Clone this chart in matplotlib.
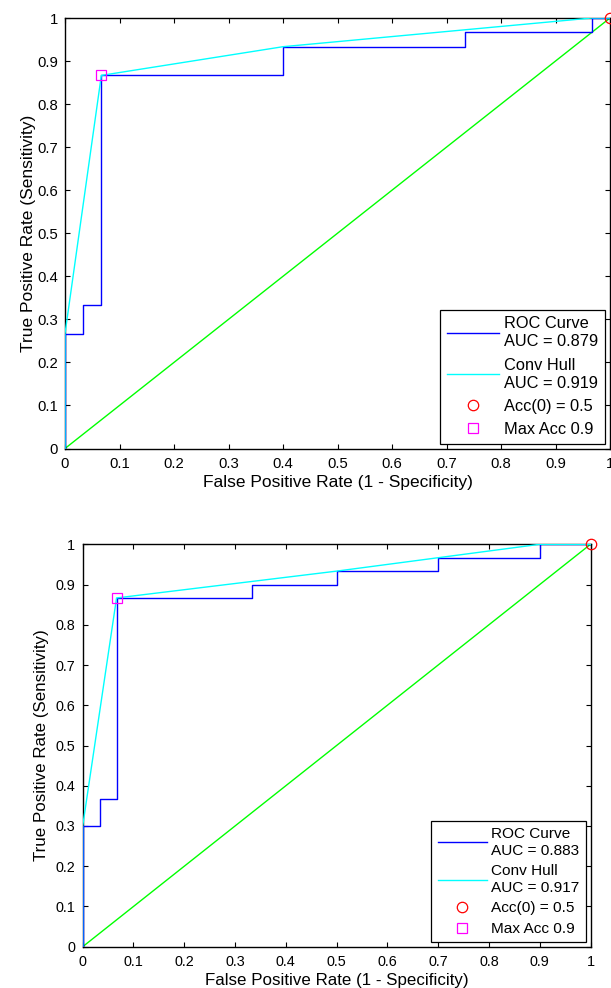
import matplotlib
matplotlib.use("Agg")
import matplotlib.pyplot as plt
from matplotlib.ticker import FormatStrFormatter

plt.rcParams['font.family'] = ['Liberation Sans', 'DejaVu Sans']

# ---- Data: top panel ----
roc1_fpr = [0, 0, 1/30, 1/30, 2/30, 2/30, 0.4, 0.4, 22/30, 22/30, 29/30, 29/30, 1]
roc1_tpr = [0, 8/30, 8/30, 10/30, 10/30, 26/30, 26/30, 28/30, 28/30, 29/30, 29/30, 1, 1]
hull1_fpr = [0, 0, 2/30, 0.4, 29/30, 1]
hull1_tpr = [0, 8/30, 26/30, 28/30, 1, 1]
auc1_roc, auc1_hull = 0.879, 0.919
maxacc1 = (2/30, 26/30)

# ---- Data: bottom panel ----
roc2_fpr = [0, 0, 1/30, 1/30, 2/30, 2/30, 10/30, 10/30, 0.5, 0.5, 0.7, 0.7, 0.9, 0.9, 1]
roc2_tpr = [0, 9/30, 9/30, 11/30, 11/30, 26/30, 26/30, 27/30, 27/30, 28/30, 28/30, 29/30, 29/30, 1, 1]
hull2_fpr = [0, 0, 2/30, 0.5, 0.7, 0.9, 1]
hull2_tpr = [0, 9/30, 26/30, 28/30, 29/30, 1, 1]
auc2_roc, auc2_hull = 0.883, 0.917
maxacc2 = (2/30, 26/30)

acc0_point = (1, 1)
acc0_value = 0.5
maxacc_value = 0.9
diag = [0, 1]
ticks = [i / 10 for i in range(11)]

fig = plt.figure(figsize=(6.11, 9.88), dpi=100)
ax1 = fig.add_axes([65/611, 1-448.5/988, 545/611, 430.5/988])
ax2 = fig.add_axes([82.7/611, 1-946.7/988, 507.8/611, 402.4/988])


def draw(ax, rf, rt, hf, ht, auc_r, auc_h, ma, ylabelpad, tick_fs, label_fs, leg_fs,
         labelspacing):
    ax.plot(diag, diag, color=(0, 1, 0), lw=1, zorder=2)
    ax.plot(rf, rt, color=(0, 0, 1), lw=1,
            label=f"ROC Curve\nAUC = {auc_r:.3f}", zorder=3)
    ax.plot(hf, ht, color=(0, 1, 1), lw=1,
            label=f"Conv Hull\nAUC = {auc_h:.3f}", zorder=4)
    ax.plot([acc0_point[0]], [acc0_point[1]], 'o', mfc='none', mec='red',
            ms=7.5, mew=0.9, label=f"Acc(0) = {acc0_value:g}", clip_on=False, zorder=5)
    ax.plot([ma[0]], [ma[1]], 's', mfc='none', mec='magenta',
            ms=7.5, mew=0.9, label=f"Max Acc {maxacc_value:g}", clip_on=False, zorder=5)
    ax.set_xlim(0, 1)
    ax.set_ylim(0, 1)
    ax.set_xticks(ticks)
    ax.set_yticks(ticks)
    ax.xaxis.set_major_formatter(FormatStrFormatter('%g'))
    ax.yaxis.set_major_formatter(FormatStrFormatter('%g'))
    ax.tick_params(direction='in', length=3.6, width=0.8, top=True, right=True,
                   labelsize=tick_fs, colors='black')
    ax.tick_params(axis='x', pad=6.3)
    ax.tick_params(axis='y', pad=5.2)
    for s in ax.spines.values():
        s.set_linewidth(1.0)
    ax.set_xlabel("False Positive Rate (1 - Specificity)", fontsize=label_fs, labelpad=2.5)
    ax.set_ylabel("True Positive Rate (Sensitivity)", fontsize=label_fs, labelpad=ylabelpad)
    leg = ax.legend(loc='lower right', fontsize=leg_fs, frameon=True, fancybox=False,
                    edgecolor='black', framealpha=1, handlelength=3.2,
                    handletextpad=0.3, borderaxespad=0.3, labelspacing=labelspacing,
                    borderpad=0.4, numpoints=1)
    leg.get_frame().set_linewidth(0.9)
    for t in leg.get_texts():
        t.set_linespacing(1.25)


draw(ax1, roc1_fpr, roc1_tpr, hull1_fpr, hull1_tpr, auc1_roc, auc1_hull, maxacc1,
     1.0, 10.7, 12.5, 11.8, 0.5)
draw(ax2, roc2_fpr, roc2_tpr, hull2_fpr, hull2_tpr, auc2_roc, auc2_hull, maxacc2,
     4.5, 10.4, 12.2, 11.1, 0.42)

fig.savefig("out.png", dpi=100, facecolor='white')
